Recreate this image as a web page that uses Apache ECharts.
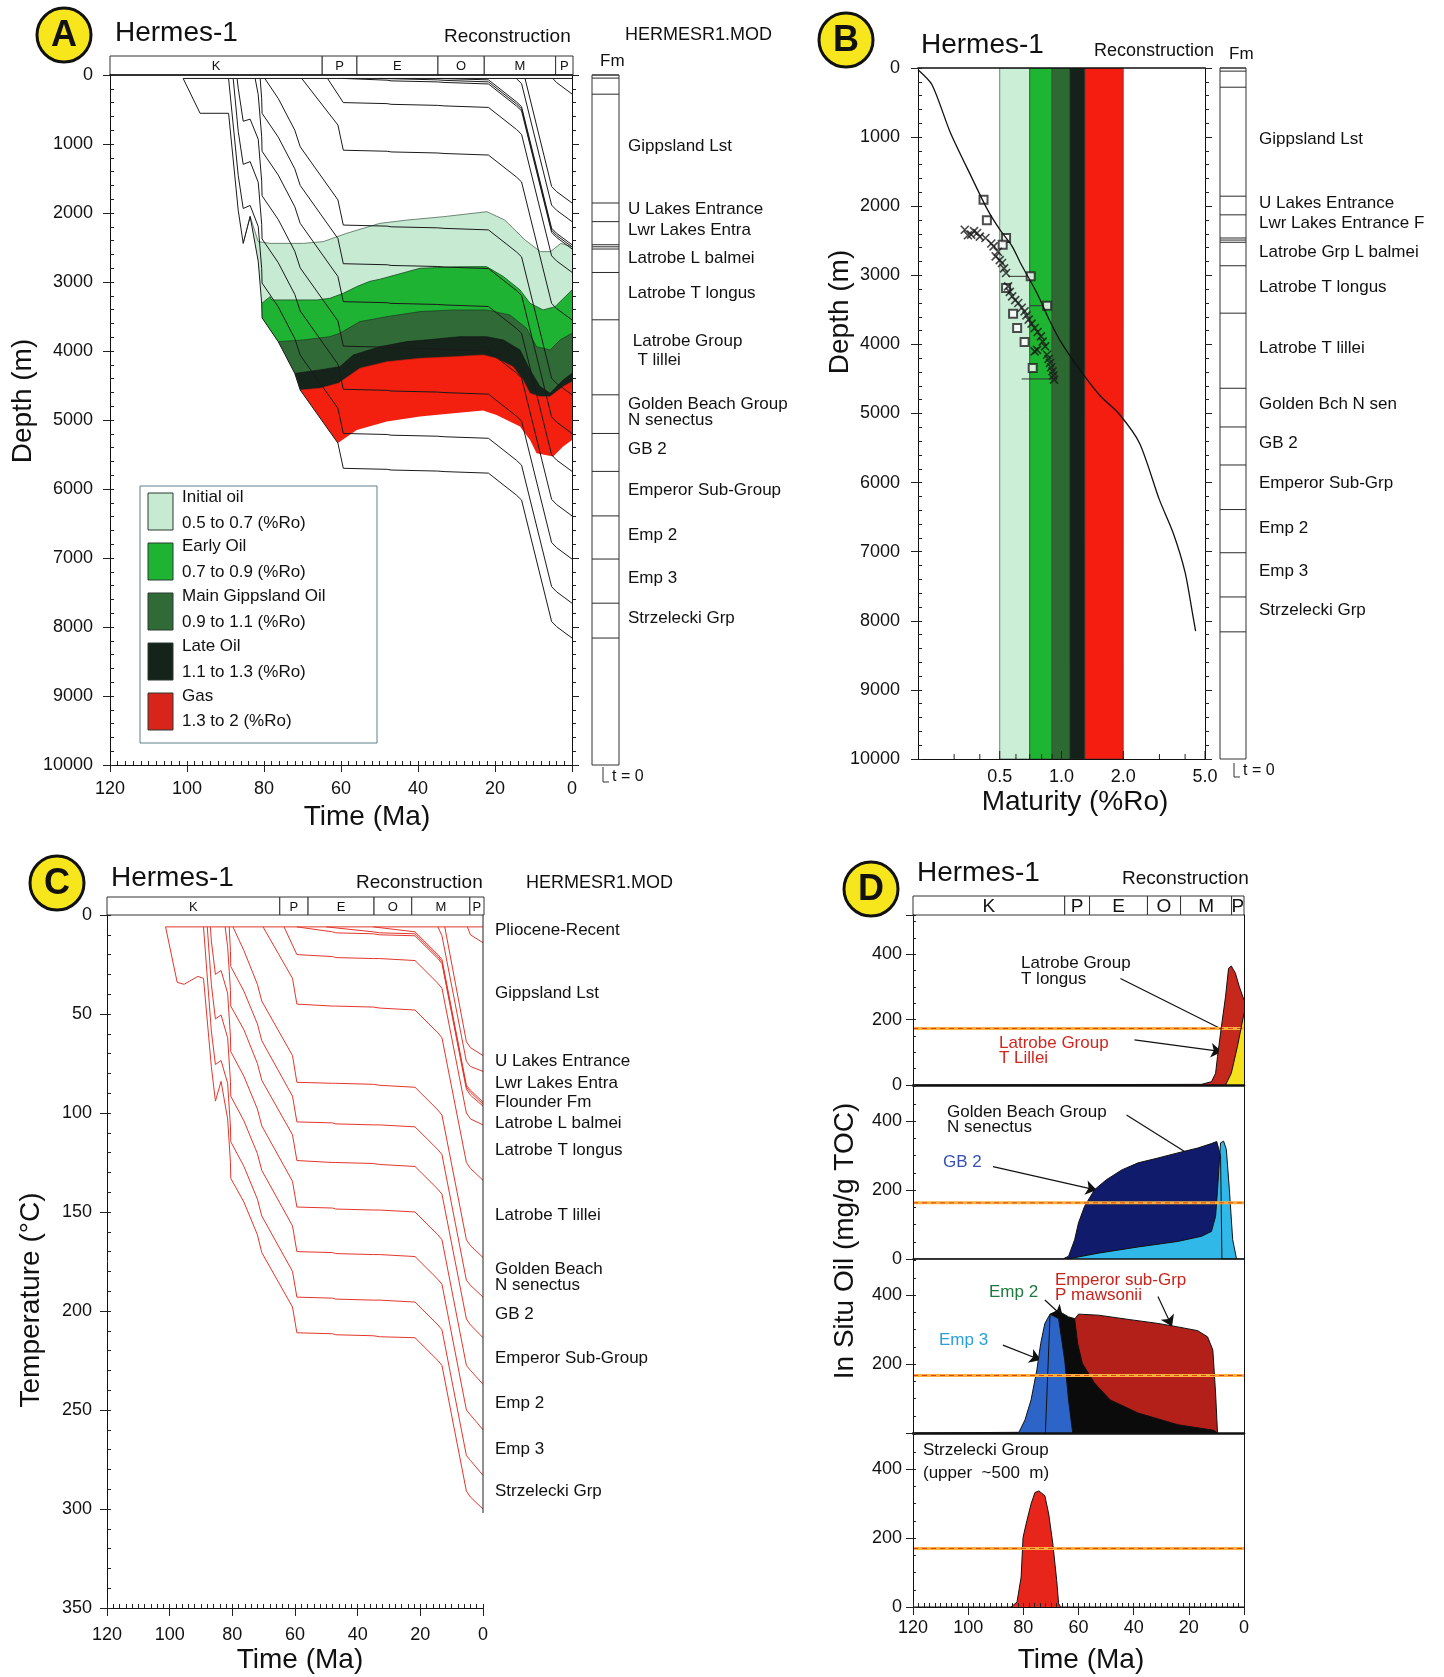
<!DOCTYPE html>
<html>
<head>
<meta charset="utf-8">
<script src="https://cdn.jsdelivr.net/npm/echarts/dist/echarts.min.js"></script>
<style>
  html, body { margin: 0; padding: 0; background: #fff; }
  #main { width: 1444px; height: 1677px; }
</style>
</head>
<body>
<div id="main"></div>
<script>
// ---- shared scales / labels ----
const periods = [[120, 65, 'K'], [65, 56, 'P'], [56, 35, 'E'], [35, 23, 'O'], [23, 4.5, 'M'], [4.5, 0, 'P']];
const fmTops = [0, 45, 278, 1855, 2125, 2460, 2490, 2522, 2862, 3548, 4635, 5195, 5745, 6390, 7015, 7655, 8160];

const fmLabelsA = [['Gippsland Lst', 1040], ['U Lakes Entrance', 1945], ['Lwr Lakes Entra', 2250], ['Latrobe L balmei', 2655],
  ['Latrobe T longus', 3165], [' Latrobe Group', 3865], ['  T lillei', 4130], ['Golden Beach Group', 4770], ['N senectus', 5010],
  ['GB 2', 5420], ['Emperor Sub-Group', 6025], ['Emp 2', 6665], ['Emp 3', 7290], ['Strzelecki Grp', 7870]];
const fmLabelsB = [['Gippsland Lst', 1027], ['U Lakes Entrance', 1954], ['Lwr Lakes Entrance F', 2253], ['Latrobe Grp L balmei', 2668],
  ['Latrobe T longus', 3169], ['Latrobe T lillei', 4052], ['Golden Bch N sen', 4872], ['GB 2', 5426], ['Emperor Sub-Grp', 6015],
  ['Emp 2', 6656], ['Emp 3', 7284], ['Strzelecki Grp', 7849]];
const fmLabelsC = [['Pliocene-Recent', 7.6], ['Gippsland Lst', 39.6], ['U Lakes Entrance', 74.1], ['Lwr Lakes Entra', 85],
  ['Flounder Fm', 94.6], ['Latrobe L balmei', 105], ['Latrobe T longus', 118.7], ['Latrobe T lillei', 151.6], ['Golden Beach', 179],
  ['N senectus', 187], ['GB 2', 201.6], ['Emperor Sub-Group', 224], ['Emp 2', 246.7], ['Emp 3', 270], ['Strzelecki Grp', 290.9]];

// ---- A: burial history, [Ma, depth m] ----
const burialSurface = [[101, 50], [0, 50]];
const burial275 = [[5.0, 50], [4.0, 110], [0, 275]];
const burial1855 = [[12.2, 50], [5.3, 1615], [4.0, 1690], [0, 1855]];
const burial2125 = [[14.4, 55], [13.1, 125], [5.3, 1885], [4.0, 1960], [0, 2125]];
const burial2460 = [[35, 50], [21.7, 70], [14.4, 390], [13.1, 460], [5.3, 2220], [4.0, 2295], [0, 2460]];
const burial2490 = [[50, 50], [35, 70], [33, 78], [21.7, 100], [14.4, 420], [13.1, 490], [5.3, 2250], [4.0, 2325], [0, 2490]];
const burial2520 = [[59.4, 50], [48, 75], [47, 85], [35, 100], [33, 108], [21.7, 130], [14.4, 450], [13.1, 520], [5.3, 2280], [4.0, 2355], [0, 2520]];
const burial2860 = [[63.5, 50], [59.4, 400], [48, 415], [47, 425], [35, 440], [33, 448], [21.7, 470], [14.4, 790], [13.1, 860], [5.3, 2620], [4.0, 2695], [0, 2860]];
const burial3550 = [[70.2, 50], [60.8, 725], [59.4, 1090], [48, 1105], [47, 1115], [35, 1130], [33, 1138], [21.7, 1160], [14.4, 1480], [13.1, 1550], [5.3, 3310], [4.0, 3385], [0, 3550]];
const burial4635 = [[79.8, 50], [76.3, 340], [72.0, 800], [70.6, 1040], [60.8, 1810], [59.4, 2175], [48, 2190], [47, 2200], [35, 2215], [33, 2223], [21.7, 2245], [14.4, 2565], [13.1, 2635], [5.3, 4395], [4.0, 4470], [0, 4635]];
const burial5195 = [[81.0, 50], [80.6, 345], [80.5, 555], [76.3, 900], [72.0, 1360], [70.6, 1600], [60.8, 2370], [59.4, 2735], [48, 2750], [47, 2760], [35, 2775], [33, 2783], [21.7, 2805], [14.4, 3125], [13.1, 3195], [5.3, 4955], [4.0, 5030], [0, 5195]];
const burial5745 = [[82.3, 50], [81.5, 285], [80.6, 895], [80.5, 1105], [76.3, 1450], [72.0, 1910], [70.6, 2150], [60.8, 2920], [59.4, 3285], [48, 3300], [47, 3310], [35, 3325], [33, 3333], [21.7, 3355], [14.4, 3675], [13.1, 3745], [5.3, 5505], [4.0, 5580], [0, 5745]];
const burial6390 = [[87.0, 50], [86.7, 190], [85.4, 670], [83.6, 640], [81.5, 930], [80.6, 1540], [80.5, 1750], [76.3, 2095], [72.0, 2555], [70.6, 2795], [60.8, 3565], [59.4, 3930], [48, 3945], [47, 3955], [35, 3970], [33, 3978], [21.7, 4000], [14.4, 4320], [13.1, 4390], [5.3, 6150], [4.0, 6225], [0, 6390]];
const burial7015 = [[88.0, 50], [86.7, 815], [85.4, 1295], [83.6, 1255], [81.5, 1555], [80.6, 2165], [80.5, 2375], [76.3, 2720], [72.0, 3180], [70.6, 3420], [60.8, 4190], [59.4, 4555], [48, 4570], [47, 4580], [35, 4595], [33, 4603], [21.7, 4625], [14.4, 4945], [13.1, 5015], [5.3, 6775], [4.0, 6850], [0, 7015]];
const burial7655 = [[89.2, 50], [86.7, 1455], [85.4, 1935], [83.6, 1890], [81.5, 2195], [80.6, 2805], [80.5, 3015], [76.3, 3360], [72.0, 3820], [70.6, 4060], [60.8, 4830], [59.4, 5195], [48, 5210], [47, 5220], [35, 5235], [33, 5243], [21.7, 5265], [14.4, 5585], [13.1, 5655], [5.3, 7415], [4.0, 7490], [0, 7655]];
const burial8160 = [[101, 50], [96.6, 555], [89.2, 555], [86.7, 1960], [85.4, 2440], [83.6, 2050], [81.5, 2700], [80.6, 3310], [80.5, 3520], [76.3, 3865], [72.0, 4325], [70.6, 4565], [60.8, 5335], [59.4, 5700], [48, 5715], [47, 5725], [35, 5740], [33, 5748], [21.7, 5770], [14.4, 6090], [13.1, 6160], [5.3, 7920], [4.0, 7995], [0, 8160]];

// iso-maturity tops (%Ro), [Ma, depth m]
const ro05 = [[85.4, 2440], [83.6, 2050], [81.5, 2415], [78.4, 2440], [69.8, 2440], [64.6, 2415], [58.5, 2294], [49.9, 2150], [42.6, 2101], [33.3, 2053], [22.1, 1981], [17.5, 2101], [12.2, 2391], [8.2, 2560], [5.6, 2560], [2.9, 2440], [0, 2488]];
const ro07 = [[80.6, 3310], [78.4, 3212], [78.0, 3260], [66.3, 3260], [62.9, 3236], [59.4, 3164], [55.9, 3067], [52.5, 2990], [49.9, 2960], [39.5, 2801], [30, 2780], [22.2, 2777], [17.8, 2922], [13.5, 3115], [10.9, 3308], [7.5, 3405], [4.4, 3357], [0, 3115]];
const ro09 = [[76.3, 3865], [69.8, 3840], [62.9, 3792], [60.3, 3743], [55.1, 3574], [48.1, 3502], [39.5, 3429], [30.8, 3405], [22.2, 3405], [16.1, 3478], [11.8, 3671], [9.2, 3937], [5.7, 3985], [3.1, 3840], [0, 3743]];
const ro11 = [[72.0, 4325], [65.5, 4274], [60.3, 4227], [56.8, 4057], [49.9, 3937], [42.9, 3864], [36.0, 3830], [29.1, 3792], [22.2, 3792], [17.8, 3840], [13.5, 3985], [10.9, 4274], [8.3, 4516], [5.7, 4612], [2.3, 4419], [0, 4323]];
const ro13 = [[70.6, 4565], [65.5, 4540], [60.7, 4468], [55.1, 4250], [48.1, 4154], [39.5, 4106], [30.8, 4082], [23.1, 4057], [19.6, 4106], [15.3, 4227], [12.7, 4419], [10.9, 4612], [8.3, 4661], [5.7, 4661], [2.3, 4516], [0, 4444]];
const ro20 = [[60.8, 5335], [55.9, 5144], [48.1, 5023], [39.5, 4951], [30.8, 4903], [23.1, 4864], [19.6, 4927], [13.5, 5096], [10.9, 5289], [9.2, 5482], [4.9, 5530], [2.3, 5385], [0, 5289]];

const legendItems = [['Initial oil', '0.5 to 0.7 (%Ro)'], ['Early Oil', '0.7 to 0.9 (%Ro)'], ['Main Gippsland Oil', '0.9 to 1.1 (%Ro)'],
  ['Late Oil', '1.1 to 1.3 (%Ro)'], ['Gas', '1.3 to 2 (%Ro)']];

// ---- B: maturity profile ----
const roBands = [[0.5, 0.7], [0.7, 0.9], [0.9, 1.1], [1.1, 1.3], [1.3, 2.0]];
const roCurve = [[0.2, 25], [0.234, 242], [0.288, 941], [0.363, 1568], [0.436, 2050], [0.501, 2340], [0.575, 2581], [0.631, 2822],
  [0.759, 3256], [0.871, 3642], [1.0, 3979], [1.26, 4413], [1.55, 4750], [1.9, 5000], [2.4, 5430], [3.0, 6250], [3.5, 6730],
  [4.0, 7300], [4.35, 7900], [4.5, 8150]];
const roSquares = [[0.417, 1906], [0.433, 2205], [0.537, 2460], [0.517, 2557], [0.708, 3015], [0.537, 3184], [0.851, 3440],
  [0.581, 3555], [0.608, 3763], [0.661, 3965], [0.724, 4341]];
const roCross = [[0.338, 2340], [0.350, 2420], [0.363, 2412], [0.375, 2360], [0.388, 2388], [0.400, 2440], [0.426, 2460],
  [0.455, 2540], [0.467, 2581], [0.478, 2726], [0.490, 2660], [0.500, 2780], [0.513, 2822], [0.525, 2900], [0.537, 2967],
  [0.549, 3160], [0.560, 3240], [0.575, 3305], [0.595, 3360], [0.616, 3401], [0.640, 3470], [0.661, 3522], [0.675, 3580],
  [0.692, 3642], [0.715, 3700], [0.741, 3763], [0.765, 3820], [0.794, 3884], [0.810, 3960], [0.832, 4028], [0.851, 4149],
  [0.865, 4210], [0.879, 4269], [0.890, 4330], [0.904, 4390], [0.912, 4450], [0.920, 4510], [0.74, 4100], [0.76, 4080]];
const roErrBars = [[0.55, 0.71, 3015], [0.70, 0.86, 3440], [0.64, 0.93, 4500]];
const roTicks = [0.3, 0.4, 0.5, 0.6, 0.7, 0.8, 0.9, 1, 2, 3, 4, 5];
const roTickLabels = { 0.5: '0.5', 1: '1.0', 2: '2.0', 5: '5.0' };

// ---- C: temperature history, [Ma, degC] ----
const tempSurface = [[101.3, 6], [0, 6]];
const temp275 = [[5.0, 6], [4.0, 10], [0, 14]];
const temp1855 = [[12.2, 6], [5.3, 64], [4.0, 67], [0, 71]];
const temp2125 = [[14.4, 6], [13.1, 10.5], [5.3, 74], [4.0, 76.5], [0, 79]];
const temp2460 = [[35, 6], [21.7, 8.5], [14.4, 20], [13.1, 22.5], [5.3, 86], [4.0, 88.5], [0, 94.5]];
const temp2490 = [[50, 6], [35, 8.5], [33, 9], [21.7, 9.5], [14.4, 21], [13.1, 23.5], [5.3, 87], [4.0, 89.5], [0, 95.5]];
const temp2520 = [[59.4, 6], [48, 8.5], [47, 9], [35, 9.5], [33, 10], [21.7, 10.5], [14.4, 22], [13.1, 24.5], [5.3, 88], [4.0, 91], [0, 96.5]];
const temp2860 = [[63.5, 6], [59.4, 20], [48, 21], [47, 21.5], [35, 22], [33, 22], [21.7, 23], [14.4, 34.5], [13.1, 37], [5.3, 100], [4.0, 103], [0, 106]];
const temp3550 = [[70.2, 6], [60.8, 32], [59.4, 45], [48, 46], [47, 46], [35, 46.5], [33, 47], [21.7, 48], [14.4, 59.5], [13.1, 62], [5.3, 125], [4.0, 128], [0, 134]];
const temp4635 = [[79.8, 6], [76.3, 18], [72.0, 35], [70.6, 43.5], [60.8, 71], [59.4, 84.5], [48, 85], [47, 85], [35, 85.5], [33, 86], [21.7, 87], [14.4, 98.5], [13.1, 101], [5.3, 164], [4.0, 167], [0, 173]];
const temp5195 = [[81.0, 6], [80.6, 18.5], [80.5, 26], [76.3, 38.5], [72.0, 55], [70.6, 63.5], [60.8, 91.5], [59.4, 104.5], [48, 105], [47, 105.5], [35, 106], [33, 106], [21.7, 107], [14.4, 118.5], [13.1, 121], [5.3, 184.5], [4.0, 187], [0, 193]];
const temp5745 = [[82.3, 6], [81.5, 16], [80.6, 38], [80.5, 46], [76.3, 58], [72.0, 75], [70.6, 83.5], [60.8, 111], [59.4, 124], [48, 125], [47, 125], [35, 125.5], [33, 126], [21.7, 127], [14.4, 138.5], [13.1, 141], [5.3, 204], [4.0, 207], [0, 213.5]];
const temp6390 = [[87.0, 6], [86.7, 13], [85.4, 30], [83.6, 28], [81.5, 39.5], [80.6, 61.5], [80.5, 69], [76.3, 81.5], [72.0, 98], [70.6, 106.5], [60.8, 134.5], [59.4, 147.5], [48, 148], [47, 148.5], [35, 149], [33, 149], [21.7, 150], [14.4, 161.5], [13.1, 164], [5.3, 227.5], [4.0, 230], [0, 237]];
const temp7015 = [[88.0, 6], [86.7, 35], [85.4, 52.5], [83.6, 50.5], [81.5, 62], [80.6, 84], [80.5, 91.5], [76.3, 104], [72.0, 120.5], [70.6, 129], [60.8, 157], [59.4, 170], [48, 170.5], [47, 171], [35, 171.5], [33, 171.5], [21.7, 172.5], [14.4, 184], [13.1, 186.5], [5.3, 250], [4.0, 252.5], [0, 260]];
const temp7655 = [[89.2, 6], [86.7, 58.5], [85.4, 75.5], [83.6, 73.5], [81.5, 85], [80.6, 107], [80.5, 114.5], [76.3, 127], [72.0, 143.5], [70.6, 152], [60.8, 180], [59.4, 193], [48, 193.5], [47, 194], [35, 194.5], [33, 194.5], [21.7, 195.5], [14.4, 207], [13.1, 209.5], [5.3, 273], [4.0, 275.5], [0, 283]];
const temp8160 = [[101.3, 6], [97.6, 34], [95.4, 35], [91.0, 31], [89.2, 32], [86.7, 76.5], [85.4, 94], [83.6, 84], [81.5, 103], [80.6, 125], [80.5, 133], [76.3, 145], [72.0, 161.5], [70.6, 170.5], [60.8, 198], [59.4, 211], [48, 211.5], [47, 212], [35, 212.5], [33, 213], [21.7, 213.5], [14.4, 225], [13.1, 227.5], [5.3, 291], [4.0, 294], [0, 300]];
const tempRightEdge = [[0, 0], [0, 302]];

// ---- D: in situ oil, [Ma, mg/g TOC] ----
const oilLillei = [[120, 0], [15.4, 2], [11.8, 10], [10.3, 36], [9.6, 87], [8.2, 178], [6.7, 270], [5.6, 357], [4.6, 364], [3.1, 342], [1.7, 301], [0, 260]];
const oilLongus = [[6.7, 0], [4.6, 36], [2.4, 117], [0, 219]];
const oilSenectus = [[120, 0], [65.7, 0], [63.6, 8], [61.4, 56], [60.0, 105], [57.8, 153], [54.2, 201], [49.9, 230], [44.2, 259], [38.4, 279], [31.2, 293], [24.0, 308], [16.8, 322], [11.8, 335], [9.9, 341], [8.5, 300], [8.0, 0], [0, 0]];
const oilGB2 = [[64, 0], [52.8, 17], [38.4, 35], [24.0, 51], [15.4, 66], [11.8, 80], [10.3, 124], [9.6, 201], [8.9, 289], [8.5, 337], [7.4, 342], [6.4, 318], [5.3, 201], [4.1, 56], [2.7, 0]];
const oilMawsonii = [[61.5, 330], [60.0, 345], [52.8, 342], [41.3, 329], [31.2, 318], [24.0, 308], [16.8, 297], [13.2, 279], [11.3, 241], [10.3, 116], [9.6, 0]];
const oilEmp2 = [[72, 0], [70.3, 345], [67.9, 354], [65.7, 347], [63.6, 337], [61.4, 332], [60.3, 260], [58.6, 202], [54.2, 145], [48.5, 96], [38.4, 58], [24.0, 24], [11.0, 8], [9.6, 0]];
const oilEmp3 = [[120, 0], [81.6, 2], [79.4, 38], [77.2, 96], [75.1, 183], [73.7, 260], [72.2, 318], [70.3, 345], [67.2, 332], [65.0, 212], [63.6, 96], [62.1, 0]];
const oilStrzelecki = [[120, 0], [84.5, 0], [82.3, 14], [80.8, 87], [80.1, 202], [78.7, 251], [77.2, 299], [75.8, 332], [74.4, 337], [72.2, 323], [70.8, 270], [69.3, 183], [67.9, 77], [67.2, 10], [66.5, 0], [0, 0]];
const oilThreshold = [173, 163, 167, 170];
const oilArrows = [
  [0, [[44.8, 326], [1.5, 143]]],
  [0, [[39.7, 138], [8.0, 102]]],
  [1, [[42.6, 418], [8.0, 244]]],
  [1, [[91.0, 268], [53.4, 200]]],
  [2, [[31.2, 396], [26.1, 309]]],
  [2, [[72.2, 386], [65.7, 338]]],
  [2, [[87.4, 255], [73.7, 212]]]
];

// ------------------------------------------------------------------
const FONT = '"Liberation Sans", Arial, Helvetica, sans-serif';
const chart = echarts.init(document.getElementById('main'), null, { width: 1444, height: 1677 });

const grids = [
  { left: 110, top: 75, width: 462, height: 690 },                                        // 0 A
  { left: 110, top: 56, width: 463, height: 19 },                                         // 1 A periods
  { left: 592, top: 75, width: 27, height: 690, show: true, borderColor: '#333', borderWidth: 1 },  // 2 A fm
  { left: 918, top: 68, width: 287, height: 691 },                                        // 3 B
  { left: 1220, top: 68, width: 26, height: 691, show: true, borderColor: '#333', borderWidth: 1 }, // 4 B fm
  { left: 107, top: 915, width: 376, height: 693 },                                       // 5 C
  { left: 107, top: 897, width: 377, height: 18 },                                        // 6 C periods
  { left: 913, top: 915, width: 331, height: 170 },                                       // 7 D1
  { left: 913, top: 1085, width: 331, height: 174 },                                      // 8 D2
  { left: 913, top: 1259, width: 331, height: 174 },                                      // 9 D3
  { left: 913, top: 1433, width: 331, height: 174 },                                      // 10 D4
  { left: 913, top: 896, width: 331, height: 19 }                                         // 11 D periods
];

const xAxes = [], yAxes = [];
function hidden() {
  return { z: 10, axisLine: { show: false, onZero: false }, axisTick: { show: false }, axisLabel: { show: false },
    splitLine: { show: false }, minorTick: { show: false }, minorSplitLine: { show: false } };
}
function addX(o) { xAxes.push(Object.assign({ type: 'value' }, hidden(), o)); return xAxes.length - 1; }
function addY(o) { yAxes.push(Object.assign({ type: 'value' }, hidden(), o)); return yAxes.length - 1; }
function aLine(w) { return { show: true, onZero: false, lineStyle: { color: '#111', width: w } }; }
function tick(len, inside) { return { show: true, inside: !!inside, length: len, lineStyle: { color: '#222', width: 1 } }; }
function lab(size, margin, fmt) {
  return { show: true, fontSize: size, color: '#111', fontFamily: FONT, margin: margin, formatter: fmt || (v => String(v)) };
}

// A axes
const AX = addX({ gridIndex: 0, min: 0, max: 120, inverse: true, interval: 20, position: 'bottom', axisLine: aLine(1), axisTick: tick(7), axisLabel: lab(18, 15) });
addX({ gridIndex: 0, min: 0, max: 120, inverse: true, interval: 2, position: 'bottom', axisTick: tick(4, true) });
addX({ gridIndex: 0, min: 0, max: 120, inverse: true, position: 'top', axisLine: aLine(1.5) });
const AY = addY({ gridIndex: 0, min: 0, max: 10000, inverse: true, interval: 1000, position: 'left', axisLine: aLine(1), axisTick: tick(7), axisLabel: lab(18, 17) });
addY({ gridIndex: 0, min: 0, max: 10000, inverse: true, interval: 200, position: 'left', axisTick: tick(4, true) });
addY({ gridIndex: 0, min: 0, max: 10000, inverse: true, interval: 1000, position: 'right', axisLine: aLine(1), axisTick: tick(7),
  minorTick: { show: true, splitNumber: 5, length: 4, lineStyle: { color: '#222' } } });
const APX = addX({ gridIndex: 1, min: 0, max: 120, inverse: true });
const APY = addY({ gridIndex: 1, min: 0, max: 1 });
const AFX = addX({ gridIndex: 2, min: 0, max: 1 });
const AFY = addY({ gridIndex: 2, min: 0, max: 10000, inverse: true });

// B axes
const BX = addX({ gridIndex: 3, type: 'log', logBase: 10, min: 0.2, max: 5, position: 'bottom', axisLine: aLine(1) });
addX({ gridIndex: 3, type: 'log', logBase: 10, min: 0.2, max: 5, position: 'top', axisLine: aLine(1.5) });
const BY = addY({ gridIndex: 3, min: 0, max: 10000, inverse: true, interval: 1000, position: 'left', axisLine: aLine(1), axisTick: tick(7), axisLabel: lab(18, 18) });
addY({ gridIndex: 3, min: 0, max: 10000, inverse: true, interval: 200, position: 'left', axisTick: tick(4, true) });
addY({ gridIndex: 3, min: 0, max: 10000, inverse: true, interval: 1000, position: 'right', axisLine: aLine(1), axisTick: tick(7),
  minorTick: { show: true, splitNumber: 5, length: 4, lineStyle: { color: '#222' } } });
const BFX = addX({ gridIndex: 4, min: 0, max: 1 });
const BFY = addY({ gridIndex: 4, min: 0, max: 10000, inverse: true });

// C axes
const CX = addX({ gridIndex: 5, min: 0, max: 120, inverse: true, interval: 20, position: 'bottom', axisLine: aLine(1), axisTick: tick(8), axisLabel: lab(18, 18) });
addX({ gridIndex: 5, min: 0, max: 120, inverse: true, interval: 2, position: 'bottom', axisTick: tick(4, true) });
const CY = addY({ gridIndex: 5, min: 0, max: 350, inverse: true, interval: 50, position: 'left', axisLine: aLine(1), axisTick: tick(7), axisLabel: lab(18, 15) });
addY({ gridIndex: 5, min: 0, max: 350, inverse: true, interval: 10, position: 'left', axisTick: tick(4, true) });
const CPX = addX({ gridIndex: 6, min: 0, max: 120, inverse: true });
const CPY = addY({ gridIndex: 6, min: 0, max: 1 });

// D axes
const dMax = [520, 505, 505, 505];
const dBase = [2.5, 1.5, 2.5, 1];
const DX = [], DY = [];
for (let i = 0; i < 4; i++) {
  const g = 7 + i;
  const xo = { gridIndex: g, min: 0, max: 120, inverse: true, interval: 20, position: 'bottom', axisLine: aLine(dBase[i]) };
  if (i === 3) { xo.axisTick = tick(8); xo.axisLabel = lab(18, 12); }
  DX[i] = addX(xo);
  if (i === 3) addX({ gridIndex: g, min: 0, max: 120, inverse: true, interval: 2, position: 'bottom', axisTick: tick(4, true) });
  const hideZero = i === 2;
  DY[i] = addY({ gridIndex: g, min: 0, max: dMax[i], interval: 200, position: 'left', axisLine: aLine(1), axisTick: tick(7),
    axisLabel: lab(18, 11, v => (v % 200 === 0 && !(hideZero && v === 0)) ? String(v) : '') });
  addY({ gridIndex: g, min: 0, max: dMax[i], interval: 50, position: 'left', axisTick: tick(3, true) });
  addY({ gridIndex: g, min: 0, max: dMax[i], position: 'right', axisLine: aLine(1) });
}
const DPX = addX({ gridIndex: 11, min: 0, max: 120, inverse: true });
const DPY = addY({ gridIndex: 11, min: 0, max: 1 });

// ---- series helpers ----
function areaS(xi, yi, data, fill, lineColor, lineWidth, origin) {
  return { type: 'line', xAxisIndex: xi, yAxisIndex: yi, data: data, symbol: 'none', showSymbol: false, silent: true,
    lineStyle: { color: lineColor || fill, width: lineWidth || 0 }, areaStyle: { color: fill, opacity: 1, origin: origin || 'end' } };
}
function lineS(xi, yi, data, color, width, extra) {
  return Object.assign({ type: 'line', xAxisIndex: xi, yAxisIndex: yi, data: data, symbol: 'none', showSymbol: false, silent: true,
    lineStyle: { color: color, width: width } }, extra || {});
}
function periodS(xi, yi, size) {
  return { type: 'custom', xAxisIndex: xi, yAxisIndex: yi, silent: true, clip: false, data: periods.map(p => [p[0], p[1]]),
    renderItem: (params, api) => {
      const p = periods[params.dataIndex];
      const a = api.coord([p[0], 1]), b = api.coord([p[1], 0]);
      return { type: 'group', children: [
        { type: 'rect', shape: { x: a[0], y: a[1], width: b[0] - a[0], height: b[1] - a[1] }, style: { fill: '#fff', stroke: '#333', lineWidth: 1 } },
        { type: 'text', style: { text: p[2], x: (a[0] + b[0]) / 2, y: (a[1] + b[1]) / 2 + 1, align: 'center', verticalAlign: 'middle',
          textAlign: 'center', textVerticalAlign: 'middle', font: size + 'px ' + FONT, fill: '#111' } }
      ] };
    } };
}
function fmLineS(xi, yi) {
  return { type: 'custom', xAxisIndex: xi, yAxisIndex: yi, silent: true, clip: false, data: fmTops.map(d => [0, d]),
    renderItem: (params, api) => {
      const d = fmTops[params.dataIndex];
      const a = api.coord([0, d]), b = api.coord([1, d]);
      return { type: 'line', shape: { x1: a[0], y1: a[1], x2: b[0], y2: b[1] }, style: { stroke: '#2a2a2a', lineWidth: 1 } };
    } };
}
function labelS(xi, yi, labels, xPix, size) {
  return { type: 'custom', xAxisIndex: xi, yAxisIndex: yi, silent: true, clip: false, data: labels.map(l => [0, l[1]]),
    renderItem: (params, api) => {
      const l = labels[params.dataIndex];
      const p = api.coord([0, l[1]]);
      return { type: 'text', style: { text: l[0], x: xPix, y: p[1], align: 'left', verticalAlign: 'middle',
        textAlign: 'left', textVerticalAlign: 'middle', font: size + 'px ' + FONT, fill: '#111' } };
    } };
}

const series = [];

// ---- A ----
series.push(areaS(AX, AY, ro05, '#c7ead2', '#4c6b55', 0.8));
series.push(areaS(AX, AY, ro07, '#1fb333', '#1b4a24', 0.8));
series.push(areaS(AX, AY, ro09, '#2f6a37', '#1a2a1e', 0.6));
series.push(areaS(AX, AY, ro11, '#15231a', '#111', 0.6));
series.push(areaS(AX, AY, ro13, '#f3200f', '#c81c10', 0.6));
series.push(areaS(AX, AY, ro20, '#ffffff', '#fff', 0));
series.push(areaS(AX, AY, burial8160, '#ffffff', '#fff', 0));
[burialSurface, burial275, burial1855, burial2125, burial2460, burial2490, burial2520, burial2860, burial3550, burial4635,
  burial5195, burial5745, burial6390, burial7015, burial7655, burial8160].forEach(h => series.push(lineS(AX, AY, h, '#1a1a1a', 1)));
series.push(periodS(APX, APY, 13));
series.push(fmLineS(AFX, AFY));
series.push(labelS(AFX, AFY, fmLabelsA, 628, 17));

// ---- B ----
const bandColors = ['#cbeed7', '#1db531', '#2c6a31', '#14221a', '#f51c10'];
series.push({ type: 'custom', xAxisIndex: BX, yAxisIndex: BY, silent: true, clip: true, data: roBands,
  renderItem: (params, api) => {
    const b = roBands[params.dataIndex];
    const a = api.coord([b[0], 0]), c = api.coord([b[1], 10000]);
    return { type: 'rect', shape: { x: a[0], y: a[1], width: c[0] - a[0], height: c[1] - a[1] },
      style: { fill: bandColors[params.dataIndex], stroke: '#333', lineWidth: 0.6 } };
  } });
series.push(lineS(BX, BY, roCurve, '#111', 1.3, { smooth: 0.25 }));
series.push({ type: 'custom', xAxisIndex: BX, yAxisIndex: BY, silent: true, clip: false, data: roErrBars.map(e => [e[0], e[2]]),
  renderItem: (params, api) => {
    const e = roErrBars[params.dataIndex];
    const a = api.coord([e[0], e[2]]), b = api.coord([e[1], e[2]]);
    return { type: 'line', shape: { x1: a[0], y1: a[1], x2: b[0], y2: b[1] }, style: { stroke: '#333', lineWidth: 1 } };
  } });
series.push({ type: 'scatter', xAxisIndex: BX, yAxisIndex: BY, silent: true, data: roSquares, symbol: 'emptyRect', symbolSize: 8,
  itemStyle: { color: '#222', borderColor: '#222', borderWidth: 1.1 } });
series.push({ type: 'scatter', xAxisIndex: BX, yAxisIndex: BY, silent: true, data: roCross, symbol: 'path://M0,0L10,10M10,0L0,10',
  symbolSize: 8, itemStyle: { color: 'none', borderColor: '#1a1a1a', borderWidth: 1.6 } });
series.push({ type: 'custom', xAxisIndex: BX, yAxisIndex: BY, silent: true, clip: false, data: roTicks.map(v => [v, 10000]),
  renderItem: (params, api) => {
    const v = roTicks[params.dataIndex];
    const p = api.coord([v, 10000]);
    const l = roTickLabels[v];
    const kids = [{ type: 'line', shape: { x1: p[0], y1: p[1], x2: p[0], y2: p[1] - (l ? 8 : 5) }, style: { stroke: '#222', lineWidth: 1 } }];
    if (l) kids.push({ type: 'text', style: { text: l, x: p[0], y: p[1] + 18, align: 'center', verticalAlign: 'middle',
      textAlign: 'center', textVerticalAlign: 'middle', font: '18px ' + FONT, fill: '#111' } });
    return { type: 'group', children: kids };
  } });
series.push(fmLineS(BFX, BFY));
series.push(labelS(BFX, BFY, fmLabelsB, 1259, 17));

// ---- C ----
[tempSurface, temp275, temp1855, temp2125, temp2460, temp2490, temp2520, temp2860, temp3550, temp4635, temp5195, temp5745,
  temp6390, temp7015, temp7655, temp8160].forEach(t => series.push(lineS(CX, CY, t, '#e2372c', 1)));
series.push(lineS(CX, CY, tempRightEdge, '#222', 1));
series.push(periodS(CPX, CPY, 13));
series.push(labelS(CX, CY, fmLabelsC, 495, 17));

// ---- D ----
function thresholdS(i) {
  const d = [[120, oilThreshold[i]], [0, oilThreshold[i]]];
  return [lineS(DX[i], DY[i], d, '#ffb03a', 3), lineS(DX[i], DY[i], d, '#d8401c', 1, { lineStyle: { color: '#d8401c', width: 1, type: [5, 4] } })];
}
const edge = '#111';
series.push(...thresholdS(0));
series.push(areaS(DX[0], DY[0], oilLillei, '#c6281c', edge, 1, 'start'));
series.push(areaS(DX[0], DY[0], oilLongus, '#f4e31c', edge, 1, 'start'));
series.push(areaS(DX[1], DY[1], oilSenectus, '#101b6c', edge, 1, 'start'));
series.push(areaS(DX[1], DY[1], oilGB2, '#2fb8e8', edge, 1, 'start'));
series.push(...thresholdS(1));
series.push(areaS(DX[2], DY[2], oilMawsonii, '#b3201a', edge, 1, 'start'));
series.push(areaS(DX[2], DY[2], oilEmp2, '#0b0b0b', edge, 1, 'start'));
series.push(areaS(DX[2], DY[2], oilEmp3, '#2d64c8', edge, 1, 'start'));
series.push(...thresholdS(2));
series.push(areaS(DX[3], DY[3], oilStrzelecki, '#e8251a', edge, 1, 'start'));
series.push(...thresholdS(3));
oilArrows.forEach(a => series.push({ type: 'lines', coordinateSystem: 'cartesian2d', xAxisIndex: DX[a[0]], yAxisIndex: DY[a[0]],
  silent: true, symbol: ['none', 'arrow'], symbolSize: 11, lineStyle: { color: '#111', width: 1.2, opacity: 1 },
  data: [{ coords: a[1] }] }));
series.push(periodS(DPX, DPY, 19));

// ---- graphic: badges, titles, axis names, legend, annotations ----
const gr = [];
function txt(text, x, y, size, o) {
  o = o || {};
  const el = { type: 'text', z: 100, silent: true, x: x, y: y,
    style: { text: text, font: (o.weight || 'normal') + ' ' + size + 'px ' + FONT, fill: o.color || '#111',
      align: o.align || 'left', verticalAlign: 'middle', textAlign: o.align || 'left', textVerticalAlign: 'middle' } };
  if (o.rot) el.rotation = o.rot;
  gr.push(el);
}
function badge(cx, cy, letter) {
  gr.push({ type: 'circle', z: 100, silent: true, shape: { cx: cx, cy: cy, r: 27 }, style: { fill: '#f6e61b', stroke: '#111', lineWidth: 3 } });
  txt(letter, cx, cy + 1, 36, { align: 'center', weight: 'bold' });
}
badge(64, 35, 'A'); badge(846, 40, 'B'); badge(57, 883, 'C'); badge(871, 889, 'D');

txt('Hermes-1', 115, 33, 28); txt('Reconstruction', 444, 37, 19); txt('HERMESR1.MOD', 625, 35, 18);
txt('Hermes-1', 921, 45, 28); txt('Reconstruction', 1094, 51, 18);
txt('Hermes-1', 111, 878, 28); txt('Reconstruction', 356, 883, 19); txt('HERMESR1.MOD', 526, 883, 18);
txt('Hermes-1', 917, 873, 28); txt('Reconstruction', 1122, 879, 19);

const R90 = Math.PI / 2;
txt('Depth (m)', 23, 401, 28, { align: 'center', rot: R90 });
txt('Time (Ma)', 367, 817, 28, { align: 'center' });
txt('Depth (m)', 840, 312, 28, { align: 'center', rot: R90 });
txt('Maturity (%Ro)', 1075, 802, 28, { align: 'center' });
txt('Temperature (°C)', 31, 1300, 28, { align: 'center', rot: R90 });
txt('Time (Ma)', 300, 1660, 28, { align: 'center' });
txt('In Situ Oil (mg/g TOC)', 845, 1241, 28, { align: 'center', rot: R90 });
txt('Time (Ma)', 1081, 1660, 28, { align: 'center' });

txt('Fm', 600, 61, 17); txt('Fm', 1229, 54, 17);
gr.push({ type: 'polyline', z: 100, silent: true, shape: { points: [[603, 767], [603, 782], [609, 782]] }, style: { stroke: '#333', fill: null, lineWidth: 1 } });
txt('t = 0', 612, 777, 16);
gr.push({ type: 'polyline', z: 100, silent: true, shape: { points: [[1234, 763], [1234, 777], [1240, 777]] }, style: { stroke: '#333', fill: null, lineWidth: 1 } });
txt('t = 0', 1243, 771, 16);

// legend of panel A
const legendColors = ['#c7ead2', '#1fb333', '#2f6a37', '#15231a', '#d8241a'];
gr.push({ type: 'rect', z: 100, silent: true, shape: { x: 140, y: 486, width: 237, height: 257 }, style: { fill: '#fff', stroke: '#5d7f8c', lineWidth: 1 } });
legendItems.forEach((it, i) => {
  gr.push({ type: 'rect', z: 101, silent: true, shape: { x: 148, y: 493 + i * 50, width: 25, height: 37 },
    style: { fill: legendColors[i], stroke: '#2a3a30', lineWidth: 1 } });
  txt(it[0], 182, 497 + i * 49.8, 17);
  txt(it[1], 182, 523 + i * 49.7, 17);
});

// annotations of panel D
txt('Latrobe Group', 1021, 963, 17); txt('T longus', 1021, 979, 17);
txt('Latrobe Group', 999, 1043, 17, { color: '#d0281f' }); txt('T Lillei', 999, 1058, 17, { color: '#d0281f' });
txt('Golden Beach Group', 947, 1112, 17); txt('N senectus', 947, 1127, 17);
txt('GB 2', 943, 1162, 17, { color: '#3551b5' });
txt('Emperor sub-Grp', 1055, 1280, 17, { color: '#c8241c' }); txt('P mawsonii', 1055, 1295, 17, { color: '#c8241c' });
txt('Emp 2', 989, 1292, 17, { color: '#1c7a3e' });
txt('Emp 3', 939, 1340, 17, { color: '#2a9fd8' });
txt('Strzelecki Group', 923, 1450, 17); txt('(upper  ~500  m)', 923, 1473, 17);

chart.setOption({
  animation: false,
  backgroundColor: '#fff',
  textStyle: { fontFamily: FONT },
  grid: grids,
  xAxis: xAxes,
  yAxis: yAxes,
  series: series,
  graphic: gr
});
</script>
</body>
</html>
